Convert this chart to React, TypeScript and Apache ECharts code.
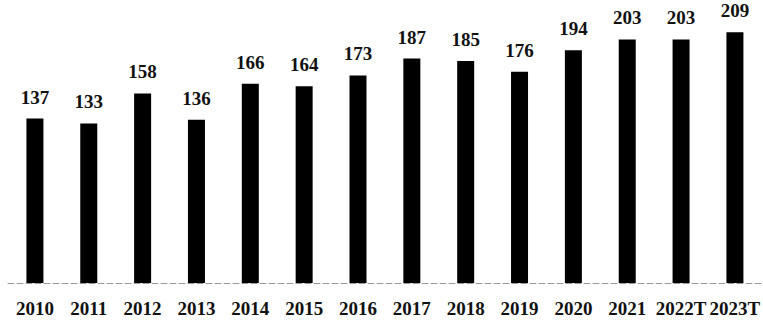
import React, { useEffect, useRef } from "react";
import * as echarts from "echarts";

const categories = ["2010", "2011", "2012", "2013", "2014", "2015", "2016", "2017", "2018", "2019", "2020", "2021", "2022T", "2023T"];
const values = [137, 133, 158, 136, 166, 164, 173, 187, 185, 176, 194, 203, 203, 209];

const FONT = "'Liberation Serif', 'Times New Roman', serif";

export default function App() {
  const ref = useRef<HTMLDivElement>(null);
  useEffect(() => {
    if (!ref.current) return;
    const chart = echarts.init(ref.current, null, { renderer: "svg" });
    chart.setOption({
      animation: false,
      backgroundColor: "#ffffff",
      grid: { left: 8, width: 761, top: 7, height: 276 },
      xAxis: {
        type: "category",
        data: categories,
        axisTick: { show: false },
        axisLine: { show: true, lineStyle: { color: "#9a9a9a", width: 1, type: [6, 3] } },
        axisLabel: {
          color: "#111",
          fontFamily: FONT,
          fontWeight: "bold",
          fontSize: 19,
          margin: 16,
          interval: 0,
        },
      },
      yAxis: { type: "value", min: 0, max: 230, show: false, splitLine: { show: false } },
      series: [
        {
          type: "bar",
          data: values,
          barWidth: 17,
          itemStyle: { color: "#000000" },
          label: {
            show: true,
            position: "top",
            distance: 12,
            color: "#111",
            fontFamily: FONT,
            fontWeight: "bold",
            fontSize: 19,
          },
        },
      ],
    });
    return () => chart.dispose();
  }, []);
  return <div ref={ref} style={{ width: 763, height: 325, position: "absolute", left: 0, top: 0 }} />;
}
